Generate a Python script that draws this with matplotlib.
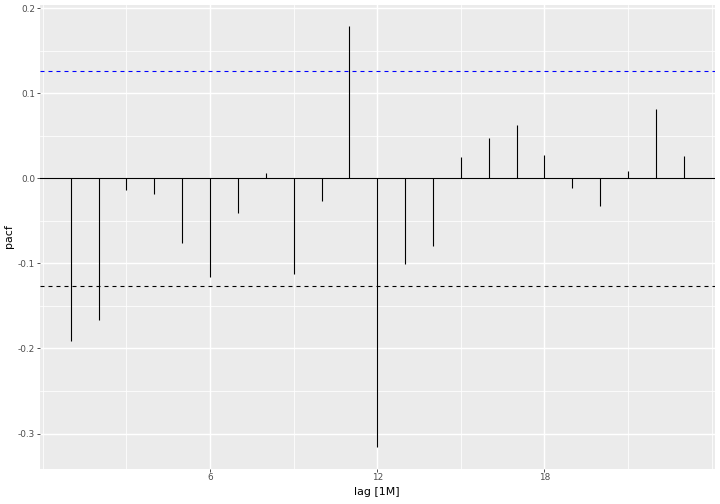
import matplotlib
matplotlib.use("Agg")
import matplotlib.pyplot as plt
import numpy as np

lags = list(range(1, 24))
pacf = [-0.191, -0.167, -0.014, -0.019, -0.076, -0.116, -0.041, 0.006, -0.112, -0.027,
        0.179, -0.316, -0.101, -0.080, 0.025, 0.047, 0.062, 0.027, -0.011, -0.033,
        0.008, 0.081, 0.026]
upper_bound = 0.1265
lower_bound = -0.1265
x_ticks = [6, 12, 18]
x_minor = [0, 3, 9, 15, 21, 24]
y_ticks = [-0.3, -0.2, -0.1, 0.0, 0.1, 0.2]
y_minor = [-0.25, -0.15, -0.05, 0.05, 0.15]

fig = plt.figure(figsize=(7.2, 5.04), dpi=100)
ax = fig.add_axes([40/720, 1-468.5/504, (714.5-40)/720, (468.5-4.6)/504])
ax.set_facecolor("#EBEBEB")
for s in ax.spines.values():
    s.set_visible(False)

# grid
for x in x_minor:
    ax.axvline(x, color="white", lw=0.55, zorder=0)
for x in x_ticks:
    ax.axvline(x, color="white", lw=1.05, zorder=0)
for y in y_minor:
    ax.axhline(y, color="white", lw=0.55, zorder=0)
for y in y_ticks:
    ax.axhline(y, color="white", lw=1.05, zorder=0)

ax.axhline(0, color="black", lw=0.8, zorder=2)
ax.vlines(lags, 0, pacf, color="black", lw=0.8, zorder=3)
ax.axhline(upper_bound, color="blue", lw=0.8, linestyle=(0, (3.6, 3.6)), zorder=3)
ax.axhline(lower_bound, color="black", lw=0.8, linestyle=(0, (3.6, 3.6)), zorder=3)

ax.set_xlim(-0.1, 24.1)
ax.set_ylim(-0.341, 0.204)
ax.set_xticks(x_ticks)
ax.set_xticklabels([str(v) for v in x_ticks])
ax.set_yticks(y_ticks)
ax.set_yticklabels(["-0.3", "-0.2", "-0.1", "0.0", "0.1", "0.2"])
ax.tick_params(axis="both", colors="#333333", length=2.0, width=0.6, labelsize=6.4,
               labelcolor="#4D4D4D", pad=1.6)
ax.set_xlabel("lag [1M]", fontsize=7.9, color="black", labelpad=3)
ax.set_ylabel("pacf", fontsize=7.9, color="black", labelpad=3)

fig.savefig("out.png", dpi=100)
